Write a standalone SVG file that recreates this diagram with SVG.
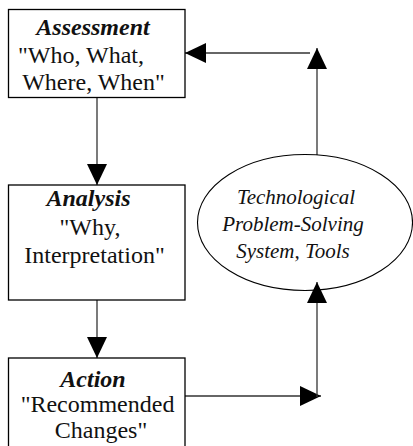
<svg xmlns="http://www.w3.org/2000/svg" width="413" height="446" viewBox="0 0 413 446">
<defs>
<style>
.box{fill:#fff;stroke:#000;stroke-width:1.3}
.t{font-family:"Liberation Serif","Times New Roman",serif;font-size:24px;fill:#111;text-anchor:middle}
.h{font-weight:bold;font-style:italic}
.e{font-family:"Liberation Serif","Times New Roman",serif;font-size:21px;font-style:italic;fill:#111;text-anchor:middle}
.c{fill:none;stroke:#333;stroke-width:1.3}
</style>
<marker id="ah" markerUnits="userSpaceOnUse" markerWidth="21" markerHeight="20" refX="21" refY="10" orient="auto">
<path d="M0,0 L21,10 L0,20 z" fill="#000"/>
</marker>
</defs>
<g id="connectors">
<path class="c" d="M97,97 V185" marker-end="url(#ah)"/>
<path class="c" d="M97,300 V358" marker-end="url(#ah)"/>
<path class="c" d="M185,396 H321" marker-end="url(#ah)"/>
<path class="c" d="M317,397 V282" marker-end="url(#ah)"/>
<path class="c" d="M317,155 V48" marker-end="url(#ah)"/>
<path class="c" d="M310,53 H185" marker-end="url(#ah)"/>
</g>
<g id="assessment">
<rect class="box" x="8.5" y="9.5" width="176.5" height="88"/>
<text class="t h" x="93" y="35">Assessment</text>
<text class="t" x="81" y="63">"Who, What,</text>
<text class="t" x="93.5" y="90">Where, When"</text>
</g>
<g id="analysis">
<rect class="box" x="8.5" y="185" width="176.5" height="115"/>
<text class="t h" x="88.5" y="206">Analysis</text>
<text class="t" x="90" y="235">"Why,</text>
<text class="t" x="94.5" y="263">Interpretation"</text>
</g>
<g id="action">
<rect class="box" x="8.5" y="358" width="176.5" height="100"/>
<text class="t h" x="93" y="387">Action</text>
<text class="t" x="97.5" y="412">"Recommended</text>
<text class="t" x="101" y="438">Changes"</text>
</g>
<g id="tools">
<ellipse cx="305" cy="222.5" rx="107.5" ry="68" fill="none" stroke="#000" stroke-width="1.1"/>
<text class="e" x="296" y="204">Technological</text>
<text class="e" x="293" y="231">Problem-Solving</text>
<text class="e" x="293" y="258">System, Tools</text>
</g>
</svg>
